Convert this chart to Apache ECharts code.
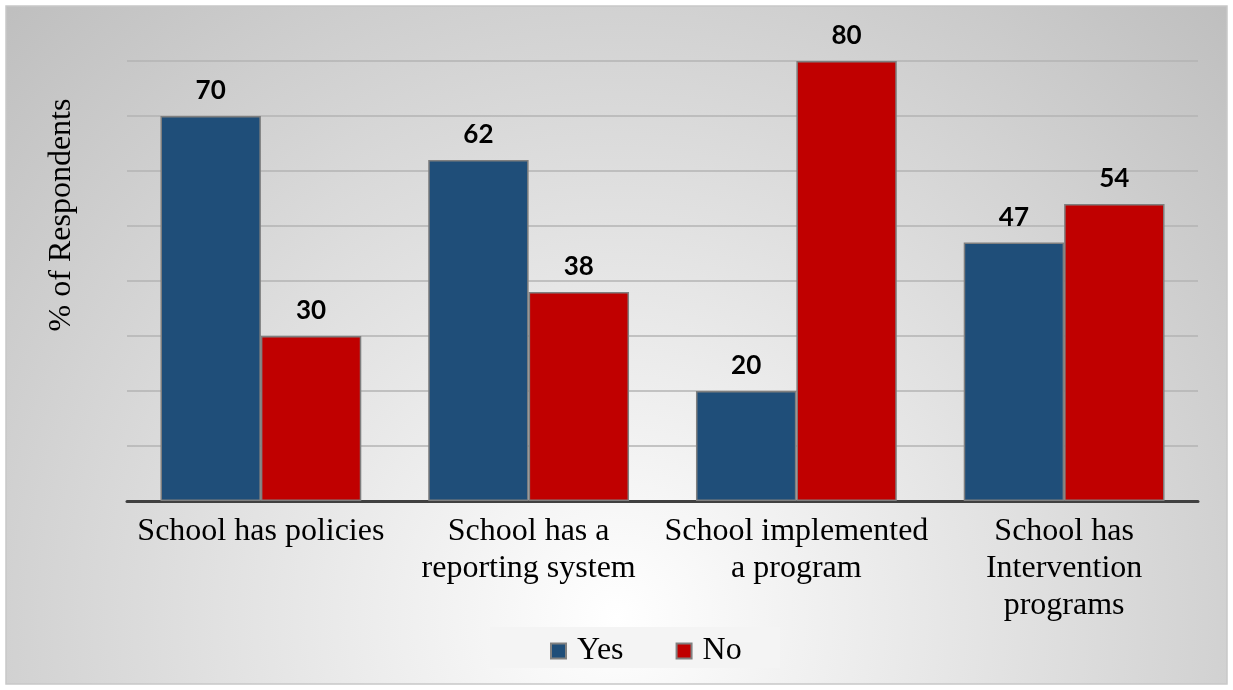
<!DOCTYPE html>
<html>
<head>
<meta charset="utf-8">
<script src="https://cdn.jsdelivr.net/npm/echarts@6/dist/echarts.min.js"></script>
<style>
  html, body { margin: 0; padding: 0; background: #fff; }
  #chart { width: 1233px; height: 690px; }
</style>
</head>
<body>
<div id="chart"></div>
<script>
// data
const categories = ['School has policies', 'School has a\nreporting system', 'School implemented\na program', 'School has\nIntervention\nprograms'];
const yesValues = [70, 62, 20, 47];
const noValues = [30, 38, 80, 54];

const myChart = echarts.init(document.getElementById('chart'));

const serif = '"Liberation Serif", "Times New Roman", serif';
const labelStyle = {
    show: true,
    position: 'top',
    distance: 12,
    fontFamily: 'Lato',
    fontWeight: 'bold',
    fontSize: 26,
    color: '#000'
};

const option = {
    backgroundColor: '#fff',
    animation: false,
    graphic: [
        {
            type: 'rect',
            z: -10,
            shape: { x: 6, y: 6, width: 1221, height: 678 },
            style: {
                fill: new echarts.graphic.RadialGradient(0.5, 0.9, 1.3, [
                    { offset: 0, color: '#ffffff' },
                    { offset: 1, color: '#bdbdbd' }
                ]),
                stroke: '#c8c8c8',
                lineWidth: 1.5
            }
        },
        {
            type: 'rect',
            z: -5,
            shape: { x: 490, y: 627, width: 290, height: 41 },
            style: { fill: '#f4f4f4' }
        },
        {
            type: 'text',
            x: 62,
            y: 215,
            rotation: Math.PI / 2,
            style: {
                text: '% of Respondents',
                font: '32px ' + serif,
                fill: '#000',
                align: 'center',
                verticalAlign: 'middle'
            }
        }
    ],
    grid: { left: 127, right: 35, top: 61, bottom: 189 },
    legend: {
        top: 630,
        left: 545,
        itemWidth: 15,
        itemHeight: 15,
        itemGap: 52,
        icon: 'rect',
        itemStyle: { borderColor: '#808080', borderWidth: 2 },
        textStyle: { fontFamily: serif, fontSize: 32, color: '#000', padding: [0, 0, 0, 6] },
        data: ['Yes', 'No']
    },
    xAxis: {
        type: 'category',
        data: categories,
        axisLine: { lineStyle: { color: '#404040', width: 3 } },
        axisTick: { show: false },
        axisLabel: {
            interval: 0,
            margin: 12,
            fontFamily: serif,
            fontSize: 32,
            lineHeight: 37,
            color: '#000'
        }
    },
    yAxis: {
        type: 'value',
        min: 0,
        max: 80,
        interval: 10,
        axisLine: { show: false },
        axisTick: { show: false },
        axisLabel: { show: false },
        splitLine: { lineStyle: { color: '#b3b3b3', width: 1.5 } }
    },
    series: [
        {
            name: 'Yes',
            type: 'bar',
            data: yesValues,
            barGap: '0%',
            barCategoryGap: '25%',
            itemStyle: { color: '#1f4e79', borderColor: '#7f7f7f', borderWidth: 1.5 },
            label: labelStyle
        },
        {
            name: 'No',
            type: 'bar',
            data: noValues,
            itemStyle: { color: '#c00000', borderColor: '#7f7f7f', borderWidth: 1.5 },
            label: labelStyle
        }
    ]
};

myChart.setOption(option);
</script>
</body>
</html>
